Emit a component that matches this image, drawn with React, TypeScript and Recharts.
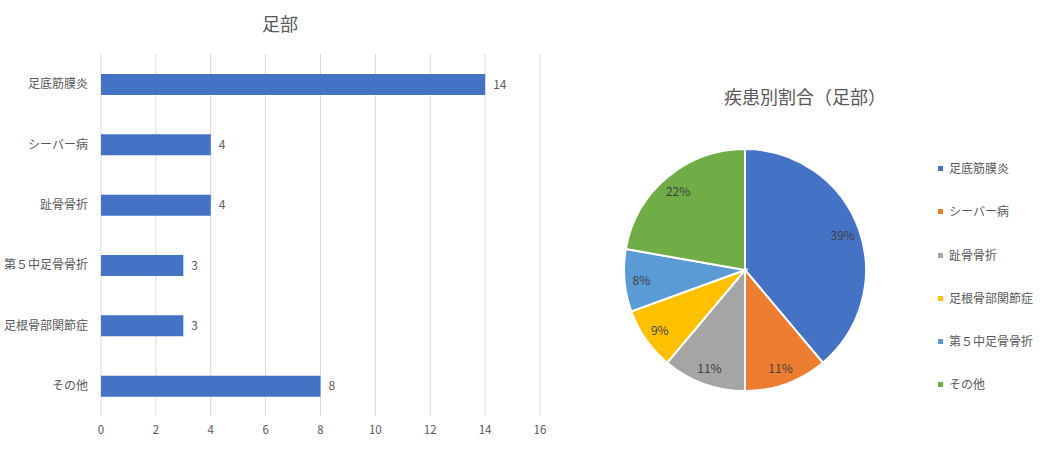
import React from "react";
import {
  BarChart,
  Bar,
  XAxis,
  YAxis,
  CartesianGrid,
  LabelList,
  PieChart,
  Pie,
  Cell,
  Legend,
} from "recharts";

// bar chart (top to bottom)
const barCategories = [
  "足底筋膜炎",
  "シーバー病",
  "趾骨骨折",
  "第５中足骨骨折",
  "足根骨部関節症",
  "その他",
];
const barCounts = [14, 4, 4, 3, 3, 8];
const xTicks = [0, 2, 4, 6, 8, 10, 12, 14, 16];

// pie chart (clockwise from 12 o'clock)
const pieCategories = [
  "足底筋膜炎",
  "シーバー病",
  "趾骨骨折",
  "足根骨部関節症",
  "第５中足骨骨折",
  "その他",
];
const pieCounts = [14, 4, 4, 3, 3, 8];
const pieColors = ["#4472C4", "#ED7D31", "#A5A5A5", "#FFC000", "#5B9BD5", "#70AD47"];

const FONT = '"Noto Sans CJK JP", "Noto Sans", sans-serif';
const TEXT = "#595959";

// percentages rounded so they add up to 100 (largest remainder)
function roundPercents(values: number[]): number[] {
  const total = values.reduce((a, b) => a + b, 0);
  const raw = values.map((v) => (v * 100) / total);
  const out = raw.map((r) => Math.floor(r));
  let left = 100 - out.reduce((a, b) => a + b, 0);
  const order = raw
    .map((r, i) => ({ i, rem: r - Math.floor(r) }))
    .sort((a, b) => b.rem - a.rem || a.i - b.i);
  for (let k = 0; k < order.length && left > 0; k++, left--) out[order[k].i] += 1;
  return out;
}

const barData = barCategories.map((name, i) => ({ name, value: barCounts[i] }));
const pieData = pieCategories.map((name, i) => ({ name, value: pieCounts[i] }));
const percents = roundPercents(pieCounts);

const RAD = Math.PI / 180;

function PieLabel(props: any) {
  const { cx, cy, midAngle, outerRadius, index } = props;
  const r = outerRadius - 17;
  const x = cx + r * Math.cos(-midAngle * RAD);
  const y = cy + r * Math.sin(-midAngle * RAD);
  return (
    <text
      x={x}
      y={y}
      fill="#404040"
      fontSize={12}
      fontFamily={FONT}
      textAnchor="middle"
      dominantBaseline="central"
    >
      {percents[index]}%
    </text>
  );
}

function LegendList() {
  return (
    <div style={{ fontFamily: FONT }}>
      {pieData.map((d, i) => (
        <div
          key={d.name}
          style={{
            height: 43.3,
            display: "flex",
            alignItems: "flex-start",
            fontSize: 12,
            color: TEXT,
            lineHeight: "16px",
          }}
        >
          <span
            style={{
              display: "inline-block",
              width: 5,
              height: 5,
              background: pieColors[i],
              marginTop: 6,
              marginRight: 6,
            }}
          />
          {d.name}
        </div>
      ))}
    </div>
  );
}

export default function App() {
  return (
    <div
      style={{
        position: "absolute",
        left: 0,
        top: 0,
        width: 1045,
        height: 460,
        background: "#fff",
        fontFamily: FONT,
      }}
    >
      {/* bar chart */}
      <div
        style={{
          position: "absolute",
          left: 280,
          top: 10,
          transform: "translateX(-50%)",
          fontSize: 18,
          color: TEXT,
          whiteSpace: "nowrap",
        }}
      >
        足部
      </div>
      <div style={{ position: "absolute", left: 0, top: 0 }}>
        <BarChart
          width={560}
          height={460}
          data={barData}
          layout="vertical"
          margin={{ top: 54, right: 20, bottom: 14, left: 0 }}
        >
          <CartesianGrid horizontal={false} stroke="#d9d9d9" />
          <XAxis
            type="number"
            domain={[0, 16]}
            ticks={xTicks}
            axisLine={false}
            tickLine={false}
            height={30}
            tickMargin={4}
            tick={{ fill: TEXT, fontSize: 11.5, fontFamily: FONT }}
          />
          <YAxis
            type="category"
            dataKey="name"
            width={101}
            axisLine={false}
            tickLine={false}
            tickSize={0}
            tickMargin={13}
            tick={{ fill: TEXT, fontSize: 12, fontFamily: FONT }}
          />
          <Bar dataKey="value" fill="#4472C4" barSize={21} isAnimationActive={false}>
            <LabelList
              dataKey="value"
              position="right"
              offset={8}
              fill={TEXT}
              fontSize={12}
              fontFamily={FONT}
            />
          </Bar>
        </BarChart>
      </div>

      {/* pie chart */}
      <div
        style={{
          position: "absolute",
          left: 805,
          top: 83,
          transform: "translateX(-50%)",
          fontSize: 18,
          color: TEXT,
          whiteSpace: "nowrap",
        }}
      >
        疾患別割合（足部）
      </div>
      <div style={{ position: "absolute", left: 560, top: 0 }}>
        <PieChart
          width={485}
          height={460}
          margin={{ top: 0, right: 0, bottom: 0, left: 0 }}
        >
          <Pie
            data={pieData}
            dataKey="value"
            nameKey="name"
            cx={185}
            cy={270}
            outerRadius={121}
            startAngle={90}
            endAngle={-270}
            stroke="#fff"
            strokeWidth={2}
            label={PieLabel}
            labelLine={false}
            isAnimationActive={false}
          >
            {pieData.map((d, i) => (
              <Cell key={d.name} fill={pieColors[i]} />
            ))}
          </Pie>
          <Legend
            content={LegendList}
            wrapperStyle={{ left: 378, top: 160, width: 110 }}
          />
        </PieChart>
      </div>
    </div>
  );
}
